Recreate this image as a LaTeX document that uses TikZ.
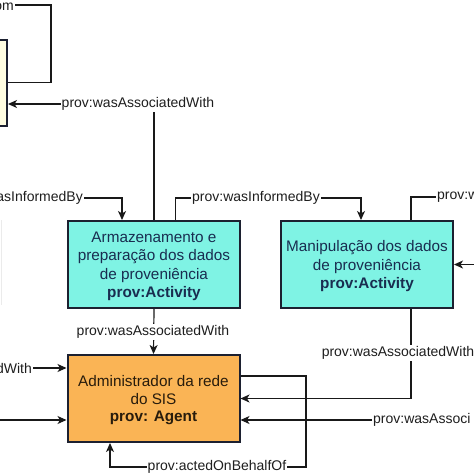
\documentclass[tikz,border=0pt]{standalone}
\usepackage{fontspec}
\setmainfont{Liberation Sans}
\usetikzlibrary{arrows.meta}
\definecolor{linec}{RGB}{25,25,25}
\definecolor{labelc}{RGB}{30,30,30}
\definecolor{boxline}{RGB}{28,32,48}
\definecolor{cyanfill}{RGB}{127,243,228}
\definecolor{cyantext}{RGB}{25,45,80}
\definecolor{orangefill}{RGB}{250,180,85}
\definecolor{orangetext}{RGB}{40,28,12}
\definecolor{creamfill}{RGB}{255,253,225}
\begin{document}
\begin{tikzpicture}[x=1pt,y=-1pt,
  conn/.style={line width=1.2pt, draw=linec},
  arr/.style={conn, -{Stealth[length=9pt,width=8pt,inset=2.5pt]}},
  lbl/.style={font=\fontsize{14}{16}\selectfont, text=labelc, fill=white, inner sep=1pt},
  boxbase/.style={draw=boxline, line width=2pt, minimum width=172pt, minimum height=87pt,
    align=center, font=\fontsize{15.3}{18.5}\selectfont, text depth=-3pt},
  cyanbox/.style={boxbase, fill=cyanfill, text=cyantext},
  orangebox/.style={boxbase, fill=orangefill, text=orangetext},
  creambox/.style={draw=boxline, line width=2pt, fill=creamfill, minimum width=80pt, minimum height=86pt}]
\useasboundingbox (0,0) rectangle (474,474);

% boxes
\node[creambox] (cream) at (-33,82.5) {};
\node[cyanbox] (armaz) at (154,264.5) {Armazenamento e\\preparação dos dados\\de proveniência\\\textbf{prov:Activity}};
\node[cyanbox] (manip) at (367,264.5) {Manipulação dos dados\\de proveniência\\\textbf{prov:Activity}};
\node[orangebox, font=\fontsize{15.3}{17.5}\selectfont] (admin) at (153.5,398.5) {Administrador da rede\\do SIS\\\textbf{prov: Agent}};

% helper coordinates
\coordinate (c104) at (0,104);
\coordinate (c198) at (0,198);
\coordinate (c376) at (0,376);
\coordinate (L1) at (306,376);
\coordinate (L2) at (306,467);
\coordinate (topR) at (51,5);
\coordinate (rin) at (480,264.5);
\coordinate (lin) at (-5,420);

% top-left loop
\node[lbl, anchor=base east, fill=none] (lblOm) at (15,10) {om};
\draw[conn] (cream.east) -- (cream.east -| topR) -- (topR) -- (topR -| lblOm.east);

% armaz -> cream (wasAssociatedWith)
\draw[arr] (armaz.north) |- (cream.east |- c104);
\node[lbl] (lblA1) at (138,104) {prov:wasAssociatedWith};

% left wasInformedBy into armaz
\node[lbl, anchor=east] (lblInL) at (84,198) {asInformedBy};
\draw[arr] (lblInL.east) -| ([xshift=-32pt]armaz.north);

% armaz -> manip wasInformedBy
\draw[arr] ([xshift=21.5pt]armaz.north) |- ([xshift=-6pt]manip.north |- c198) -- ([xshift=-6pt]manip.north);
\node[lbl] (lblInM) at (256,198) {prov:wasInformedBy};

% manip top right
\node[lbl, anchor=west] (lblW) at (436,197) {prov:w};
\draw[conn] ([xshift=44pt]manip.north) |- (lblW.west);

% right arrow into manip
\draw[arr] (rin) -- (manip.east);

% armaz -> admin
\draw[arr] (armaz.south) -- (admin.north);
\node[lbl] (lblA2) at (153,332) {prov:wasAssociatedWith};

% manip -> admin
\draw[arr] ([xshift=44pt]manip.south) |- (admin.east);
\node[lbl] (lblA3) at (398,353) {prov:wasAssociatedWith};

% right label into admin
\node[lbl, anchor=west] (lblA4) at (372,420) {prov:wasAssoci};
\draw[arr] (lblA4.west) -- (lblA4.west -| admin.east);

% actedOnBehalfOf loop
\draw[arr] (admin.east |- c376) -- (L1) -- (L2) -| ([xshift=-43.5pt]admin.south);
\node[lbl] (lblAct) at (217,467) {prov:actedOnBehalfOf};

% left arrows into admin
\node[lbl, anchor=east] (lblD) at (33,368) {dWith};
\draw[arr] (lblD.east) -- (lblD.east -| admin.west);
\draw[arr] (lin) -- (lin -| admin.west);

% faint edge on the left
\draw[draw=black!8, line width=1pt] (1,220) -- (1,305);
\end{tikzpicture}
\end{document}
